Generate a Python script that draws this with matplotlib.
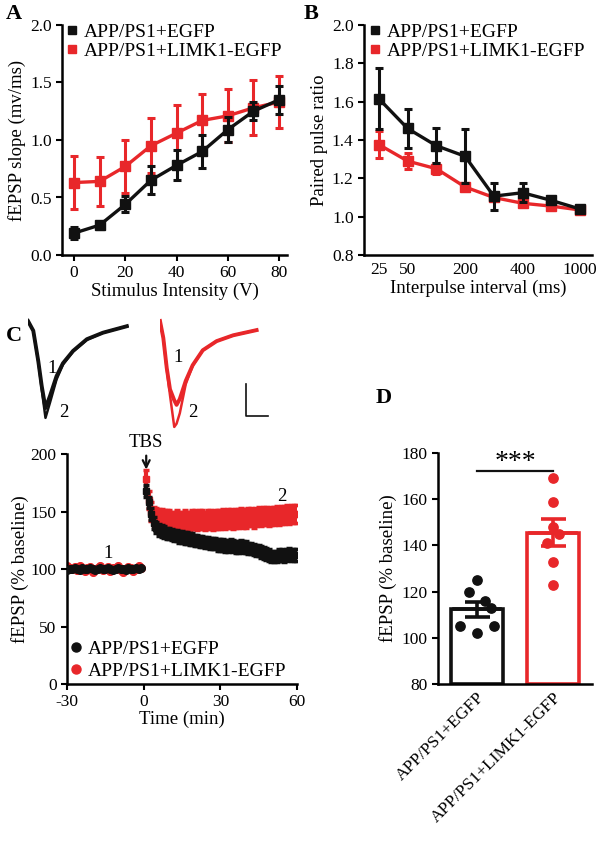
import numpy as np
import matplotlib
matplotlib.use("Agg")
import matplotlib.pyplot as plt

plt.rcParams['font.family'] = ['Liberation Serif', 'DejaVu Serif']
plt.rcParams['font.size'] = 12.5
plt.rcParams['axes.unicode_minus'] = False
plt.rcParams['axes.linewidth'] = 1.8
plt.rcParams['xtick.major.width'] = 1.5
plt.rcParams['ytick.major.width'] = 1.5
plt.rcParams['xtick.major.size'] = 4
plt.rcParams['ytick.major.size'] = 4

RED = '#e8272a'
BLACK = '#111111'
lbl_ctl = 'APP/PS1+EGFP'
lbl_limk = 'APP/PS1+LIMK1-EGFP'
TICK = 12.5
LAB = 13.5
LEG = 14

# ---- A: input-output
io_v = [0, 10, 20, 30, 40, 50, 60, 70, 80]
io_ctl = [0.19, 0.26, 0.44, 0.65, 0.78, 0.90, 1.09, 1.25, 1.35]
io_ctl_err = [0.05, 0.03, 0.07, 0.12, 0.13, 0.14, 0.11, 0.08, 0.12]
io_limk = [0.63, 0.64, 0.77, 0.95, 1.06, 1.17, 1.21, 1.28, 1.33]
io_limk_err = [0.23, 0.21, 0.23, 0.24, 0.24, 0.23, 0.23, 0.24, 0.23]

# ---- B: paired pulse
ppr_int = [25, 50, 100, 200, 300, 400, 500, 1000]
ppr_shown = [25, 50, 200, 400, 1000]
ppr_ctl = [1.615, 1.46, 1.37, 1.315, 1.107, 1.125, 1.085, 1.04]
ppr_ctl_err = [0.16, 0.10, 0.09, 0.14, 0.07, 0.05, 0.02, 0.015]
ppr_limk = [1.376, 1.29, 1.25, 1.155, 1.10, 1.07, 1.055, 1.035]
ppr_limk_err = [0.07, 0.04, 0.03, 0.015, 0.01, 0.01, 0.01, 0.01]

# ---- C: traces (ms, mV)
tr_ctl_t = [0, 1.15, 2.24, 2.98, 3.8, 4.8, 6.2, 7.6, 9.8, 12.8, 16.3, 21.5]
tr_ctl_1 = [0, -0.15, -0.62, -1.0, -1.34, -1.15, -0.85, -0.65, -0.46, -0.28, -0.18, -0.08]
tr_ctl_2 = [0, -0.15, -0.63, -1.05, -1.49, -1.25, -0.9, -0.67, -0.47, -0.29, -0.18, -0.08]
tr_limk_t = [0, 0.72, 1.46, 2.17, 3.1, 3.6, 4.3, 5.6, 7.1, 9.3, 12.3, 15.9, 21.0]
tr_limk_1 = [0, -0.26, -0.72, -1.05, -1.22, -1.29, -1.2, -0.92, -0.68, -0.45, -0.31, -0.22, -0.14]
tr_limk_2 = [0, -0.26, -0.74, -1.14, -1.63, -1.58, -1.42, -0.97, -0.69, -0.45, -0.31, -0.22, -0.14]

# ---- C: LTP time course
base_t = list(range(-30, 0))
base_ctl = [99, 100, 100, 101, 100, 99, 101, 100, 100, 101, 100, 99, 100, 101, 100,
            100, 101, 100, 99, 100, 101, 100, 100, 99, 101, 100, 100, 101, 100, 101]
base_limk = [103, 101, 100, 102, 99, 103, 100, 98, 101, 102, 97, 100, 101, 103, 99,
             100, 102, 98, 101, 100, 103, 99, 97, 100, 102, 101, 98, 100, 103, 101]
post_t = list(range(1, 61))
post_ctl = [168, 158, 148, 140, 136, 134, 133, 132, 131, 131,
            130, 129, 129, 128, 128, 127, 127, 126, 126, 125,
            125, 124, 124, 123, 123, 122, 122, 122, 121, 121,
            121, 120, 120, 121, 120, 119, 119, 120, 119, 119,
            118, 118, 117, 116, 116, 115, 114, 113, 112, 111,
            111, 111, 112, 112, 111, 112, 113, 112, 112, 112]
post_limk = [178, 160, 150, 146, 145, 144, 144, 143, 143, 143,
             142, 142, 143, 142, 142, 143, 142, 142, 143, 143,
             142, 143, 143, 142, 143, 143, 142, 143, 143, 143,
             144, 143, 144, 144, 143, 144, 144, 145, 144, 144,
             145, 145, 144, 145, 146, 145, 146, 146, 145, 146,
             146, 147, 146, 147, 147, 148, 147, 148, 148, 148]

# ---- D: last 10 min
d_groups = [lbl_ctl, lbl_limk]
d_ctl_pts = [125, 120, 116, 113, 105, 105, 102]
d_limk_pts = [169, 159, 148, 145, 141, 133, 123]

fig = plt.figure(figsize=(5.97, 8.47), dpi=100)


def style(ax):
    ax.spines['top'].set_visible(False)
    ax.spines['right'].set_visible(False)
    ax.tick_params(direction='out', labelsize=TICK)


# A
axA = fig.add_axes([62/597, 1-255/847, 225/597, 230/847])
axA.errorbar(io_v, io_ctl, yerr=io_ctl_err, color=BLACK, marker='s', ms=6.5, lw=2.4,
             capsize=3, elinewidth=2.2, capthick=2.2, zorder=3)
axA.errorbar(io_v, io_limk, yerr=io_limk_err, color=RED, marker='s', ms=6.5, lw=2.4,
             capsize=3, elinewidth=2.2, capthick=2.2, zorder=2)
axA.set_xlim(-4.7, 83.1)
axA.set_ylim(0, 2.0)
axA.set_xticks([0, 20, 40, 60, 80])
axA.set_yticks([0, 0.5, 1.0, 1.5, 2.0])
axA.set_yticklabels(['0.0', '0.5', '1.0', '1.5', '2.0'])
axA.set_xlabel('Stimulus Intensity (V)', fontsize=LAB, labelpad=1)
axA.set_ylabel('fEPSP slope (mv/ms)', fontsize=LAB, labelpad=3)
style(axA)
axA.plot([], [], 's', color=BLACK, ms=5.5, label=lbl_ctl)
axA.plot([], [], 's', color=RED, ms=5.5, label=lbl_limk)
axA.legend(loc='upper left', frameon=False, fontsize=LEG, handlelength=0.6,
           handletextpad=0.3, borderaxespad=0.0, bbox_to_anchor=(-0.015, 1.04),
           labelspacing=0.05)

# B
axB = fig.add_axes([364/597, 1-255/847, 228/597, 230/847])
xb = np.arange(len(ppr_int))
axB.errorbar(xb, ppr_ctl, yerr=ppr_ctl_err, color=BLACK, marker='s', ms=6.5, lw=2.4,
             capsize=3, elinewidth=2.2, capthick=2.2, zorder=3)
axB.errorbar(xb, ppr_limk, yerr=ppr_limk_err, color=RED, marker='s', ms=6.5, lw=2.4,
             capsize=3, elinewidth=2.2, capthick=2.2, zorder=2)
axB.set_xlim(-0.52, 7.42)
axB.set_ylim(0.8, 2.0)
axB.set_xticks([ppr_int.index(v) for v in ppr_shown])
axB.set_xticklabels([str(v) for v in ppr_shown])
axB.set_yticks([0.8, 1.0, 1.2, 1.4, 1.6, 1.8, 2.0])
axB.set_xlabel('Interpulse interval (ms)', fontsize=LAB, labelpad=1)
axB.set_ylabel('Paired pulse ratio', fontsize=LAB, labelpad=3)
style(axB)
axB.tick_params(axis='x', length=0, pad=5)
axB.plot([], [], 's', color=BLACK, ms=5.5, label=lbl_ctl)
axB.plot([], [], 's', color=RED, ms=5.5, label=lbl_limk)
axB.legend(loc='upper left', frameon=False, fontsize=LEG, handlelength=0.6,
           handletextpad=0.3, borderaxespad=0.0, bbox_to_anchor=(-0.01, 1.04),
           labelspacing=0.05)

# C traces
for x0, tt, y1, y2, col, n1, n2 in [
        (28, tr_ctl_t, tr_ctl_1, tr_ctl_2, BLACK, (52, 368), (64, 412)),
        (160, tr_limk_t, tr_limk_1, tr_limk_2, RED, (178, 357), (193, 412))]:
    # 4.6 px per ms, 65 px per mV; top of trace at y=321
    axT = fig.add_axes([x0/597, 1-(321+1.7*65)/847, 22*4.6/597, 1.8*65/847])
    axT.plot(tt, y1, color=col, lw=2.8, solid_joinstyle='round')
    axT.plot(tt, y2, color=col, lw=1.8, solid_joinstyle='round')
    axT.set_xlim(0, 22)
    axT.set_ylim(-1.7, 0.1)
    axT.axis('off')
    fig.text(n1[0]/597, 1-n1[1]/847, '1', fontsize=LAB, ha='center', va='center')
    fig.text(n2[0]/597, 1-n2[1]/847, '2', fontsize=LAB, ha='center', va='center')

# scale bar
fig.add_artist(plt.Line2D([246/597, 246/597, 268/597], [1-384/847, 1-416/847, 1-416/847],
                          color=BLACK, lw=1.2))

# C time course
axC = fig.add_axes([67/597, 1-684/847, 230/597, 230/847])
axC.errorbar(base_t, base_limk, yerr=2.5, color=RED, marker='o', ms=5.5, lw=0,
             elinewidth=2, capsize=1.5, zorder=2)
axC.errorbar(post_t, post_limk, yerr=8, color=RED, marker='s', ms=5, lw=0,
             elinewidth=3, capsize=2.5, capthick=2.5, zorder=2)
axC.errorbar(base_t, base_ctl, yerr=2, color=BLACK, marker='o', ms=5.5, lw=0,
             elinewidth=2, capsize=1.5, zorder=3)
axC.errorbar(post_t, post_ctl, yerr=5, color=BLACK, marker='s', ms=5, lw=0,
             elinewidth=3, capsize=2.5, capthick=2.5, zorder=3)
axC.set_xlim(-30, 60)
axC.set_ylim(0, 200)
axC.set_xticks([-30, 0, 30, 60])
axC.set_yticks([0, 50, 100, 150, 200])
axC.set_xlabel('Time (min)', fontsize=LAB, labelpad=0)
axC.set_ylabel('fEPSP (% baseline)', fontsize=LAB, labelpad=1)
style(axC)
axC.plot([], [], 'o', color=BLACK, ms=6.5, label=lbl_ctl)
axC.plot([], [], 'o', color=RED, ms=6.5, label=lbl_limk)
axC.legend(loc='lower left', frameon=False, fontsize=LEG, handlelength=0.6,
           handletextpad=0.3, borderaxespad=0.0, bbox_to_anchor=(-0.02, -0.015),
           labelspacing=0.2)
axC.annotate('', xy=(1, 184), xytext=(1, 201),
             arrowprops=dict(arrowstyle='->', color=BLACK, lw=1.6), annotation_clip=False)
axC.text(1, 203, 'TBS', ha='center', va='bottom', fontsize=LAB, clip_on=False)
axC.text(-14, 106, '1', ha='center', va='bottom', fontsize=LAB)
axC.text(54, 156, '2', ha='center', va='bottom', fontsize=LAB)

# D bars
axD = fig.add_axes([438/597, 1-684/847, 154/597, 231/847])
d_means = [np.mean(d_ctl_pts), np.mean(d_limk_pts)]
d_sems = [np.std(d_ctl_pts, ddof=1)/np.sqrt(len(d_ctl_pts)),
          np.std(d_limk_pts, ddof=1)/np.sqrt(len(d_limk_pts))]
cols = [BLACK, RED]
axD.bar([0, 1], [m - 80 for m in d_means], bottom=80, width=0.68, color='white',
        edgecolor=cols, linewidth=2.6, zorder=1)
for i, (m, s, c) in enumerate(zip(d_means, d_sems, cols)):
    axD.errorbar(i, m, yerr=s, color=c, capsize=9, capthick=2.6, elinewidth=2.6, zorder=2)
    axD.plot([i - 0.3, i + 0.3], [m, m], color=c, lw=2.6, zorder=2)
offs_ctl = [0.0, -0.1, 0.1, 0.18, -0.22, 0.22, 0.0]
offs_limk = [0.0, 0.0, 0.0, 0.08, -0.08, 0.0, 0.0]
axD.scatter(np.zeros(len(d_ctl_pts)) + offs_ctl, d_ctl_pts, s=45, color=BLACK, zorder=3)
axD.scatter(np.ones(len(d_limk_pts)) + offs_limk, d_limk_pts, s=45, color=RED, zorder=3)
axD.set_xlim(-0.513, 1.513)
axD.set_ylim(80, 180)
axD.set_yticks([80, 100, 120, 140, 160, 180])
axD.set_xticks([0, 1])
axD.set_xticklabels(d_groups, rotation=45, ha='right', rotation_mode='anchor', fontsize=14.5)
axD.set_ylabel('fEPSP (% baseline)', fontsize=LAB, labelpad=3)
style(axD)
axD.tick_params(axis='x', length=0, pad=4)
axD.plot([0, 1], [172.3, 172.3], color=BLACK, lw=1.6, clip_on=False)
axD.text(0.5, 170.5, '***', ha='center', va='bottom', fontsize=20, clip_on=False)

# panel letters
for ch, x, y in [('A', 6, 14), ('B', 304, 14), ('C', 6, 336), ('D', 376, 398)]:
    fig.text(x/597, 1-y/847, ch, fontsize=16, fontweight='bold', ha='left', va='center')

fig.savefig('out.png', dpi=100)
